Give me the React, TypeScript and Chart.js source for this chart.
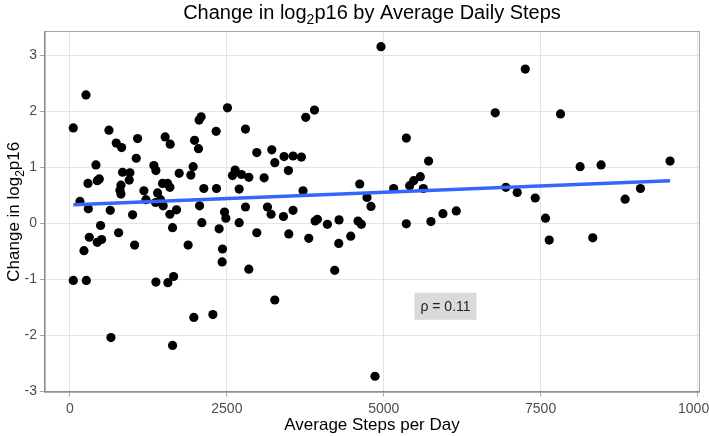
import React, { useEffect, useRef } from "react";
import { Chart, registerables } from "chart.js";

Chart.register(...registerables);

// ---- data ----
const stepsX = [
  53, 53, 159, 223, 255, 260, 287, 292, 308, 414, 435, 435, 467, 488, 504, 621, 642, 653, 737, 775,
  796, 812, 812, 823, 838, 944, 955, 998, 1030, 1056, 1077, 1178, 1210, 1337, 1364, 1369, 1369, 1396,
  1443, 1475, 1485, 1517, 1555, 1560, 1592, 1592, 1597, 1635, 1635, 1651, 1698, 1740, 1883, 1926,
  1963, 1974, 1985, 2048, 2058, 2065, 2090, 2101, 2133, 2277, 2329, 2335, 2377, 2425, 2431, 2463,
  2484, 2510, 2590, 2632, 2696, 2696, 2733, 2797, 2797, 2850, 2850, 2977, 2977,
  3094, 3147, 3205, 3216, 3264, 3264, 3402, 3412, 3481, 3487, 3555, 3555, 3688, 3714, 3757, 3805,
  3896, 3906, 3943, 4102, 4219, 4283, 4288, 4474, 4590, 4617, 4643, 4733, 4797, 4861, 4956, 5158,
  5360, 5360, 5413, 5477, 5583, 5631, 5715, 5752, 5943, 6156,
  6777, 6946, 7127, 7256, 7414, 7578, 7637, 7817, 8130, 8331, 8464, 8847, 9091, 9563,
];
const changeY = [
  1.70, -1.02, 0.39, -0.49, 2.29, -1.02, 0.71, 0.26, -0.25, 1.04, 0.76, -0.34, 0.79, -0.04, -0.29, 1.66, 0.23, -2.04, 1.43, -0.17,
  0.59, 0.68, 0.52, 1.35, 0.91, 0.77, 0.90, 0.15, -0.39, 1.16, 1.51, 0.58, 0.42, 1.03, 0.37, 0.94, -1.05, 0.54,
  0.42, 0.71, 0.31, 1.54, 0.71, -1.06, 0.64, 0.16, 1.41, -0.08, -2.18, -0.95, 0.24, 0.89, -0.39, 0.86,
  1.01, -1.68, 1.48, 1.33, 1.84, 0.31, 1.90, 0.01, 0.62, -1.63, 1.64, 0.62, -0.10, -0.69, -0.46, 0.20,
  0.09, 2.06, 0.85, 0.95, 0.61, 0.01, 0.87, 1.68, 0.29, 0.82, -0.82, 1.26, -0.17,
  0.81, 0.29, 0.16, 1.31, 1.08, -1.37, 0.12, 1.19, 0.94, -0.19, 1.20, 0.23, 1.18, 0.58, 1.89, -0.27,
  2.02, 0.04, 0.07, -0.02, -0.84, -0.36, 0.06, -0.23, 0.04, 0.70, -0.02, 0.46, 0.30, -2.73, 3.15, 0.62,
  1.52, -0.01, 0.67, 0.76, 0.83, 0.62, 1.11, 0.03, 0.17, 0.22,
  1.97, 0.64, 0.55, 2.75, 0.45, 0.09, -0.30, 1.95, 1.01, -0.26, 1.04, 0.43, 0.62, 1.11,
];
const fitX = [53, 9563];
const fitY = [0.33, 0.76];
const xTicks = [0, 2500, 5000, 7500, 10000];
const yTicks = [-3, -2, -1, 0, 1, 2, 3];

const titleParts = [
  { t: "Change in log", sub: false },
  { t: "2", sub: true },
  { t: "p16 by Average Daily Steps", sub: false },
];
const yTitleParts = [
  { t: "Change in log", sub: false },
  { t: "2", sub: true },
  { t: "p16", sub: false },
];
const xTitle = "Average Steps per Day";
const rhoText = "ρ = 0.11";
const rhoX = 6000;
const rhoY = -1.5;

const FONT = "'Liberation Sans', Arial, sans-serif";

function drawRich(ctx: CanvasRenderingContext2D, parts: { t: string; sub: boolean }[], size: number, cx: number, baseline: number) {
  const subSize = size * 0.7;
  let total = 0;
  const widths = parts.map((p) => {
    ctx.font = `${p.sub ? subSize : size}px ${FONT}`;
    const w = ctx.measureText(p.t).width;
    total += w;
    return w;
  });
  let x = cx - total / 2;
  ctx.textAlign = "left";
  ctx.textBaseline = "alphabetic";
  parts.forEach((p, i) => {
    ctx.font = `${p.sub ? subSize : size}px ${FONT}`;
    ctx.fillText(p.t, x, baseline + (p.sub ? size * 0.27 : 0));
    x += widths[i];
  });
}

const decorPlugin = {
  id: "decor",
  afterDraw(chart: any) {
    const { ctx, chartArea, scales } = chart;
    const { left, right, top, bottom } = chartArea;
    ctx.save();
    // panel border
    ctx.strokeStyle = "#a6a6a6";
    ctx.lineWidth = 1;
    ctx.strokeRect(left + 0.5, top + 0.5, right - left - 1, bottom - top - 1);
    ctx.strokeStyle = "#8c8c8c";
    ctx.lineWidth = 1.6;
    ctx.beginPath();
    ctx.moveTo(left + 0.8, top);
    ctx.lineTo(left + 0.8, bottom - 0.8);
    ctx.lineTo(right, bottom - 0.8);
    ctx.stroke();

    // rho label
    const cx = scales.x.getPixelForValue(rhoX);
    const cy = scales.y.getPixelForValue(rhoY);
    ctx.font = `14px ${FONT}`;
    const tw = ctx.measureText(rhoText).width;
    const bw = tw + 12;
    const bh = 27;
    ctx.fillStyle = "#dadada";
    ctx.fillRect(cx - bw / 2 - 1, cy - bh / 2 - 1, bw, bh);
    ctx.fillStyle = "#222";
    ctx.textAlign = "center";
    ctx.textBaseline = "middle";
    ctx.fillText(rhoText, cx - 1, cy);

    // titles
    ctx.fillStyle = "#000";
    const midX = (left + right) / 2;
    drawRich(ctx, titleParts, 20, midX, 18.5);

    ctx.font = `17px ${FONT}`;
    ctx.textAlign = "center";
    ctx.textBaseline = "alphabetic";
    ctx.fillText(xTitle, midX, 430);

    ctx.save();
    ctx.translate(19, (top + bottom) / 2);
    ctx.rotate(-Math.PI / 2);
    drawRich(ctx, yTitleParts, 17, 0, 0);
    ctx.restore();
    ctx.restore();
  },
};

export default function App() {
  const ref = useRef<HTMLCanvasElement | null>(null);
  useEffect(() => {
    if (!ref.current) return;
    const points = stepsX.map((x, i) => ({ x, y: changeY[i] }));
    const fit = fitX.map((x, i) => ({ x, y: fitY[i] }));
    const chart = new Chart(ref.current, {
      type: "scatter",
      data: {
        datasets: [
          {
            type: "line",
            data: fit,
            borderColor: "#3366FF",
            borderWidth: 3.5,
            pointRadius: 0,
            showLine: true,
            fill: false,
          } as any,
          {
            data: points,
            backgroundColor: "#000",
            borderWidth: 0,
            pointRadius: 4.6,
            pointHoverRadius: 4.6,
          },
        ],
      },
      options: {
        responsive: false,
        animation: false,
        devicePixelRatio: 1,
        layout: { padding: { top: 31, right: 9, left: 0, bottom: 0 } },
        plugins: { legend: { display: false }, tooltip: { enabled: false }, title: { display: false } },
        scales: {
          x: {
            type: "linear",
            min: -414,
            max: 10040,
            afterBuildTicks: (s: any) => {
              s.ticks = xTicks.map((v) => ({ value: v }));
            },
            afterFit: (s: any) => {
              s.height = 43.5;
              s.paddingLeft = 0;
              s.paddingRight = 0;
            },
            ticks: {
              autoSkip: false,
              maxRotation: 0,
              padding: 4,
              color: "#4d4d4d",
              font: { family: FONT, size: 14 },
              callback: (v: any) => String(v),
            },
            grid: { color: "#e3e3e3", lineWidth: 1, tickLength: 4, tickColor: "#a6a6a6", drawTicks: true },
            border: { display: false },
          },
          y: {
            type: "linear",
            min: -3.02,
            max: 3.43,
            afterBuildTicks: (s: any) => {
              s.ticks = yTicks.map((v) => ({ value: v }));
            },
            afterFit: (s: any) => {
              s.width = 44;
              s.paddingTop = 0;
              s.paddingBottom = 0;
            },
            ticks: {
              autoSkip: false,
              padding: 3,
              color: "#4d4d4d",
              font: { family: FONT, size: 14 },
              callback: (v: any) => String(v),
            },
            grid: { color: "#e3e3e3", lineWidth: 1, tickLength: 4, tickColor: "#a6a6a6", drawTicks: true },
            border: { display: false },
          },
        },
      },
      plugins: [decorPlugin],
    });
    return () => chart.destroy();
  }, []);
  return (
    <div style={{ position: "absolute", left: 0, top: 0, width: 709, height: 436, background: "#fff" }}>
      <canvas ref={ref} width={709} height={436} style={{ display: "block" }} />
    </div>
  );
}
